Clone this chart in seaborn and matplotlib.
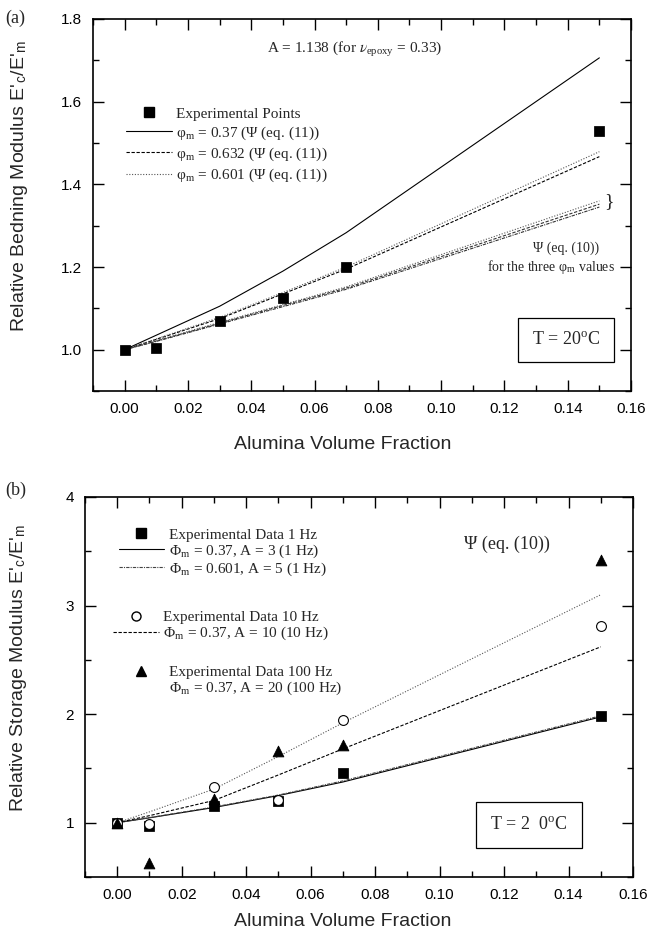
import numpy as np
import pandas as pd
import matplotlib
matplotlib.use("Agg")
import matplotlib.pyplot as plt
import seaborn as sns
from matplotlib.lines import Line2D
from matplotlib.ticker import MultipleLocator

sns.set_theme(style="ticks")
plt.rcParams["font.family"] = ["Liberation Sans", "DejaVu Sans"]
plt.rcParams["mathtext.fontset"] = "stix"
plt.rcParams["axes.unicode_minus"] = False

SERIF = ["Liberation Serif", "DejaVu Serif"]

# ---- panel (a): relative bending modulus ----
vf = [0.0, 0.01, 0.03, 0.05, 0.07, 0.15]
exp_bend = [1.0, 1.005, 1.07, 1.125, 1.2, 1.53]
eq11_037 = [1.0, 1.035, 1.105, 1.19, 1.283, 1.706]
eq11_0632 = [1.0, 1.025, 1.075, 1.135, 1.195, 1.467]
eq11_0601 = [1.0, 1.026, 1.078, 1.138, 1.2, 1.479]
eq10_037 = [1.0, 1.02, 1.062, 1.104, 1.146, 1.345]
eq10_0632 = [1.0, 1.021, 1.064, 1.107, 1.149, 1.352]
eq10_0601 = [1.0, 1.022, 1.066, 1.109, 1.152, 1.36]

# ---- panel (b): relative storage modulus ----
exp_1hz = [1.0, 0.97, 1.15, 1.2, 1.46, 1.98]
exp_10hz = [1.0, 0.99, 1.33, 1.21, 1.95, 2.81]
exp_100hz = [1.0, 0.63, 1.22, 1.66, 1.72, 3.42]
fit_037_a3 = [1.0, 1.045, 1.14, 1.25, 1.375, 1.975]
fit_0601_a5 = [1.0, 1.047, 1.145, 1.255, 1.385, 1.985]
fit_037_a10 = [1.0, 1.065, 1.205, 1.44, 1.68, 2.62]
fit_037_a20 = [1.0, 1.1, 1.31, 1.61, 1.92, 3.1]

W, H = 649, 936
fig = plt.figure(figsize=(W / 100, H / 100), dpi=100)
fig.patch.set_facecolor("white")


def px_axes(l, t, r, b):
    return fig.add_axes([l / W, 1 - b / H, (r - l) / W, (b - t) / H])


def style_axes(ax, ymaj, ymin):
    ax.set_facecolor("white")
    for s in ax.spines.values():
        s.set_visible(True)
        s.set_color("black")
        s.set_linewidth(1.2)
    ax.xaxis.set_major_locator(MultipleLocator(0.02))
    ax.xaxis.set_minor_locator(MultipleLocator(0.01))
    ax.yaxis.set_major_locator(MultipleLocator(ymaj))
    ax.yaxis.set_minor_locator(MultipleLocator(ymin))
    ax.tick_params(which="both", direction="in", top=True, right=True,
                   colors="black", width=1.0, labelsize=11, pad=8)
    ax.tick_params(which="major", length=8)
    ax.tick_params(which="minor", length=4)
    ax.grid(False)


def curve(ax, y, ls, lw=0.8, color="black"):
    sns.lineplot(x=vf, y=y, ax=ax, color=color, linewidth=lw,
                 linestyle=ls, estimator=None, sort=False)


# ================= (a) =================
ax1 = px_axes(93, 19, 631, 391)
curve(ax1, eq11_037, "-")
curve(ax1, eq11_0632, (0, (3, 1.5)))
curve(ax1, eq11_0601, (0, (1, 1.5)), color="#555555")
curve(ax1, eq10_037, (0, (3, 1, 1, 1)), color="#333333")
curve(ax1, eq10_0632, (0, (3, 1.5)), color="#333333")
curve(ax1, eq10_0601, (0, (1, 1.5)), color="#555555")
sns.scatterplot(x=vf, y=exp_bend, ax=ax1, marker="s", s=45, color="black",
                edgecolor="black", zorder=5)
ax1.set_xlim(-0.01, 0.16)
ax1.set_ylim(0.9, 1.8)
style_axes(ax1, 0.2, 0.1)
ax1.set_xticks(np.arange(0, 0.161, 0.02))
ax1.set_xticklabels([f"{v:.2f}" for v in np.arange(0, 0.161, 0.02)])
ax1.set_yticks([1.0, 1.2, 1.4, 1.6, 1.8])
ax1.set_yticklabels(["1.0", "1.2", "1.4", "1.6", "1.8"])
ax1.set_xlabel("Alumina Volume Fraction", fontsize=14)
ax1.set_ylabel(r"Relative Bedning Modulus E'$_\mathregular{c}$/E'$_\mathregular{m}$", fontsize=14)
ax1.xaxis.set_label_coords(0.465, -0.12)
ax1.yaxis.set_label_coords(-0.118, 0.55)

h_a = [
    Line2D([], [], marker="s", ls="none", color="black", ms=6.5),
    Line2D([], [], ls="-", color="black", lw=0.8),
    Line2D([], [], ls=(0, (3, 1.5)), color="black", lw=0.8),
    Line2D([], [], ls=(0, (1, 1.5)), color="#555555", lw=0.8),
]
l_a = [
    "Experimental Points",
    r"φ$_\mathregular{m}$ = 0.37 (Ψ (eq. (11))",
    r"φ$_\mathregular{m}$ = 0.632 (Ψ (eq. (11))",
    r"φ$_\mathregular{m}$ = 0.601 (Ψ (eq. (11))",
]
ax1.legend(h_a, l_a, loc="upper left", bbox_to_anchor=(0.05, 0.78),
           frameon=False, prop={"family": SERIF, "size": 11},
           handlelength=3.0, handletextpad=0.3, labelspacing=0.25,
           borderaxespad=0)

ax1.text(0.045, 1.725, r"A = 1.138 (for $\nu_{\mathregular{epoxy}}$ = 0.33)",
         family=SERIF, fontsize=11, va="center", ha="left")
ax1.text(0.1515, 1.358, "}", family=SERIF, fontsize=14, va="center", ha="left")
ax1.text(0.129, 1.246, "Ψ (eq. (10))", family=SERIF, fontsize=10,
         va="center", ha="left")
ax1.text(0.1145, 1.2, r"for the three φ$_\mathregular{m}$ values", family=SERIF,
         fontsize=10, va="center", ha="left")
ax1.text(0.1394, 1.024, r"T = 20$^\mathregular{o}$C", family=SERIF, fontsize=13,
         va="center", ha="center",
         bbox=dict(boxstyle="square,pad=0.75", fc="white", ec="black", lw=0.9))

fig.text(5 / W, 1 - 18 / H, "(a)", family=SERIF, fontsize=13, va="center", ha="left")

# ================= (b) =================
ax2 = px_axes(85, 497, 633, 877)
curve(ax2, fit_037_a3, "-")
curve(ax2, fit_0601_a5, (0, (3, 1, 1, 1)), color="#444444")
curve(ax2, fit_037_a10, (0, (3, 1.5)))
curve(ax2, fit_037_a20, (0, (1, 1.5)), color="#555555")
sns.scatterplot(x=vf, y=exp_1hz, ax=ax2, marker="s", s=45, color="black",
                edgecolor="black", zorder=5)
sns.scatterplot(x=vf, y=exp_10hz, ax=ax2, marker="o", s=50, color="white",
                edgecolor="black", linewidth=0.8, zorder=6)
sns.scatterplot(x=vf, y=exp_100hz, ax=ax2, marker="^", s=60, color="black",
                edgecolor="black", zorder=7)
ax2.set_xlim(-0.01, 0.16)
ax2.set_ylim(0.5, 4.0)
style_axes(ax2, 1.0, 0.5)
ax2.set_xticks(np.arange(0, 0.161, 0.02))
ax2.set_xticklabels([f"{v:.2f}" for v in np.arange(0, 0.161, 0.02)])
ax2.set_yticks([1, 2, 3, 4])
ax2.set_yticklabels(["1", "2", "3", "4"])
ax2.set_xlabel("Alumina Volume Fraction", fontsize=14)
ax2.set_ylabel(r"Relative Storage Modulus E'$_\mathregular{c}$/E'$_\mathregular{m}$", fontsize=14)
ax2.xaxis.set_label_coords(0.47, -0.095)
ax2.yaxis.set_label_coords(-0.102, 0.55)

leg_kw = dict(loc="upper left", frameon=False, prop={"family": SERIF, "size": 11},
              handlelength=3.0, handletextpad=0.3, labelspacing=0.05,
              borderaxespad=0)
g1 = ax2.legend(
    [Line2D([], [], marker="s", ls="none", color="black", ms=6.5),
     Line2D([], [], ls="-", color="black", lw=0.8),
     Line2D([], [], ls=(0, (3, 1, 1, 1)), color="#444444", lw=0.8)],
    ["Experimental Data 1 Hz",
     r"Φ$_\mathregular{m}$ = 0.37, A = 3 (1 Hz)",
     r"Φ$_\mathregular{m}$ = 0.601, A = 5 (1 Hz)"],
    bbox_to_anchor=(0.05, 0.935), **leg_kw)
ax2.add_artist(g1)
g2 = ax2.legend(
    [Line2D([], [], marker="o", ls="none", mfc="white", mec="black", ms=6.5),
     Line2D([], [], ls=(0, (3, 1.5)), color="black", lw=0.8)],
    ["Experimental Data 10 Hz",
     r"Φ$_\mathregular{m}$ = 0.37, A = 10 (10 Hz)"],
    bbox_to_anchor=(0.04, 0.718), **leg_kw)
ax2.add_artist(g2)
ax2.legend(
    [Line2D([], [], marker="^", ls="none", color="black", ms=7),
     Line2D([], [], ls="none", color="black")],
    ["Experimental Data 100 Hz",
     r"Φ$_\mathregular{m}$ = 0.37, A = 20 (100 Hz)"],
    bbox_to_anchor=(0.05, 0.573), **leg_kw)

ax2.text(0.1077, 3.56, "Ψ (eq. (10))", family=SERIF, fontsize=13,
         va="center", ha="left")
ax2.text(0.1278, 0.98, r"T = 2  0$^\mathregular{o}$C", family=SERIF, fontsize=13,
         va="center", ha="center",
         bbox=dict(boxstyle="square,pad=0.8", fc="white", ec="black", lw=0.9))

fig.text(5 / W, 1 - 490 / H, "(b)", family=SERIF, fontsize=13, va="center", ha="left")

fig.savefig("out.png", dpi=100, facecolor="white")
